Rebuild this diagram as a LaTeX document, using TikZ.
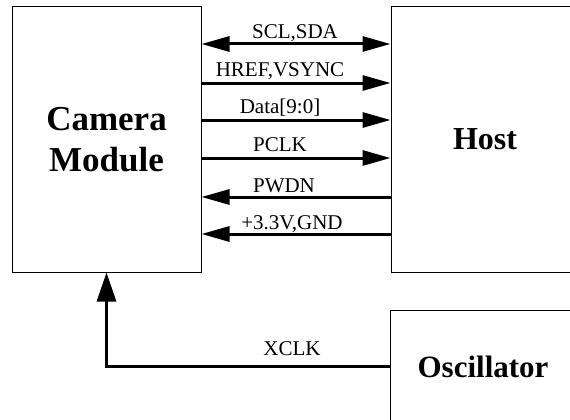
\documentclass[tikz,border=0pt]{standalone}
\usepackage{fontspec}
\setmainfont{Liberation Serif}
\usetikzlibrary{arrows.meta}

\tikzset{
	block/.style={draw, line width=1pt, inner sep=0pt, align=center,
		font=\fontsize{35}{41}\selectfont\bfseries},
	sig/.style={line width=3pt, -{Triangle[length=28pt,width=15pt]}},
	lbl/.style={draw=none, anchor=base, inner sep=0pt,
		font=\fontsize{21}{24}\selectfont}
}

\begin{document}
\begin{tikzpicture}[x=1pt, y=-1pt]
\useasboundingbox (0,0) rectangle (570,420);
\clip (0,0) rectangle (570,420);

\path (106.5,139.5) node[block, minimum width=189pt, minimum height=265pt] (cam) {Camera\\Module};
\path (485,139.5) node[block, minimum width=188pt, minimum height=265pt,
	font=\fontsize{32}{38}\selectfont\bfseries] (host) {Host};
\path (483,367) node[block, minimum width=186pt, minimum height=114pt,
	font=\fontsize{31}{37}\selectfont\bfseries] (osc) {Oscillator};

\draw [sig, {Triangle[length=28pt,width=15pt]}-{Triangle[length=28pt,width=15pt]}]
	(cam.east |- 0,44) -- (host.west |- 0,44);
\path (295,38) node[lbl] (sclsda) {SCL,SDA};

\foreach \y/\xl/\txt in {83/280/{HREF,VSYNC}, 120/280/{Data[9:0]}, 158/280/{PCLK}}
{
	\draw [sig] (cam.east |- 0,\y) -- (host.west |- 0,\y);
	\path (\xl,\y-7) node[lbl] (out\y) {\txt};
}

\foreach \y/\xl/\txt in {197/284/{PWDN}, 234/292/{+3.3V,GND}}
{
	\draw [sig] (host.west |- 0,\y) -- (cam.east |- 0,\y);
	\path (\xl,\y-5) node[lbl] (in\y) {\txt};
}

\draw [sig, -{Triangle[length=29pt,width=19pt]}] (osc.west |- 0,366) -| (cam.south);
\path (292,355) node[lbl] (xclk) {XCLK};

\end{tikzpicture}
\end{document}
